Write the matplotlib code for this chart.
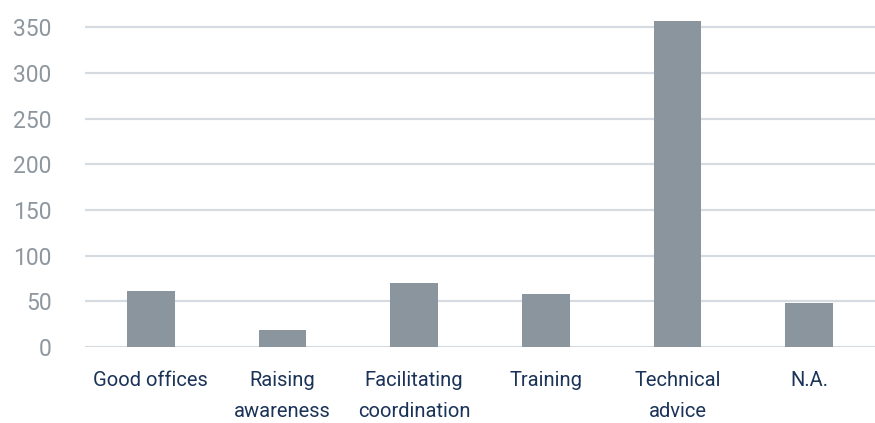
import matplotlib.pyplot as plt

categories = ["Good offices", "Raising\nawareness", "Facilitating\ncoordination",
              "Training", "Technical\nadvice", "N.A."]
values = [61, 19, 70, 58, 357, 48]
yticks = [0, 50, 100, 150, 200, 250, 300, 350]

plt.rcParams['font.family'] = ['Roboto', 'DejaVu Sans']

fig = plt.figure(figsize=(8.75, 4.23), dpi=100)
ax = fig.add_axes([85 / 875, 76 / 423, 790 / 875, 338 / 423])

x = range(len(categories))
ax.bar(x, values, width=0.36, color='#8a959e', zorder=3)

ax.set_xlim(-0.5, len(categories) - 0.5)
ax.set_ylim(0, 370)
ax.set_yticks(yticks)
ax.set_xticks(list(x))
ax.set_xticklabels(categories, linespacing=1.85, va='top')

ax.grid(axis='y', color='#d5dbe0', linewidth=1.6, zorder=0)
for s in ax.spines.values():
    s.set_visible(False)
ax.tick_params(axis='y', length=0, pad=24, labelsize=16.5, labelcolor='#8e979f')
ax.tick_params(axis='x', length=0, pad=17, labelsize=14.5, labelcolor='#1b3358')

fig.savefig('out.png', dpi=100)
